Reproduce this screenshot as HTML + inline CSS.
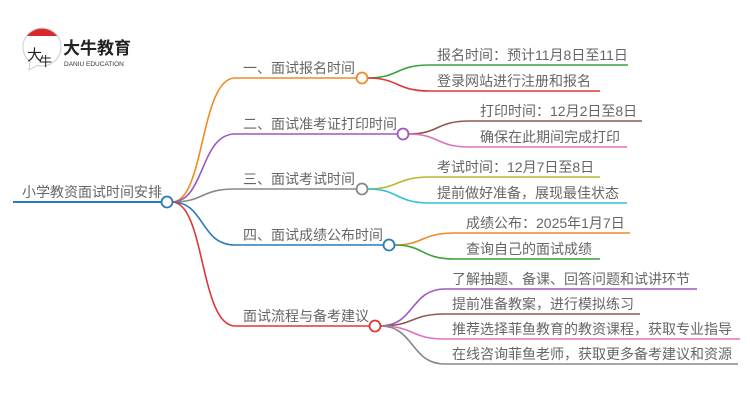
<!DOCTYPE html>
<html><head><meta charset="utf-8"><style>
html,body{margin:0;padding:0;background:#fff;width:750px;height:410px;overflow:hidden}
svg text{font-family:"Liberation Sans","Noto Sans CJK SC",sans-serif;fill:#666}
</style></head><body>
<svg width="750" height="410" viewBox="0 0 750 410" xmlns="http://www.w3.org/2000/svg">
<!-- logo -->
<g>
<circle cx="42" cy="47" r="19" fill="#fff" stroke="#ccc" stroke-width="1"/>
<path d="M27 36 A19 19 0 0 1 57 36 Z" fill="#d82a2a"/>
<path d="M30 62 L29 70 L38 65" fill="#fff" stroke="#ccc" stroke-width="1"/>
<text x="27" y="60" font-size="15" style="fill:#222">大</text>
<text x="39" y="66" font-size="13" style="fill:#222">牛</text>
<text x="63" y="54" font-size="17" font-weight="bold" style="fill:#222">大牛教育</text>
<text x="64" y="66" font-size="6.5" style="fill:#333">DANIU EDUCATION</text>
</g>
<g fill="none" stroke-width="1.6">
<line x1="13" y1="202" x2="162" y2="202" stroke="#2a7ab8" stroke-width="2"/>
<path d="M172 202 C205 202,200 78,235 78 L357 78" stroke="#f08a24"/>
<path d="M172 202 C205 202,200 134,235 134 L398 134" stroke="#9b59c0"/>
<path d="M172 202 C205 202,200 189,235 189 L357 189" stroke="#888"/>
<path d="M172 202 C205 202,200 245,235 245 L384 245" stroke="#2a7ab8"/>
<path d="M172 202 C205 202,200 326,235 326 L370 326" stroke="#e03535"/>
<path d="M367 78 C400 78,395 65,430 65 L628 65" stroke="#3aa43a"/>
<path d="M367 78 C400 78,395 91,430 91 L600 91" stroke="#e03535"/>
<path d="M408 134 C440 134,435 121,470 121 L642 121" stroke="#8b5a4a"/>
<path d="M408 134 C440 134,435 147,470 147 L627 147" stroke="#e070c0"/>
<path d="M367 189 C400 189,395 177,430 177 L600 177" stroke="#b8b830"/>
<path d="M367 189 C400 189,395 203,430 203 L627 203" stroke="#30c0d8"/>
<path d="M394 245 C425 245,420 233,455 233 L630 233" stroke="#f08a24"/>
<path d="M394 245 C425 245,420 259,455 259 L600 259" stroke="#3aa43a"/>
<path d="M380 326 C415 326,410 289,445 289 L697 289" stroke="#9b59c0"/>
<path d="M380 326 C415 326,410 314,445 314 L640 314" stroke="#8b5a4a"/>
<path d="M380 326 C415 326,410 339,445 339 L740 339" stroke="#e070c0"/>
<path d="M380 326 C415 326,410 364,445 364 L738 364" stroke="#888"/>
</g>
<g fill="#fff" stroke-width="1.8">
<circle cx="167" cy="202" r="5.5" stroke="#2a7ab8"/>
<circle cx="362" cy="78" r="5.5" stroke="#f08a24"/>
<circle cx="403" cy="134" r="5.5" stroke="#9b59c0"/>
<circle cx="362" cy="189" r="5.5" stroke="#888"/>
<circle cx="389" cy="245" r="5.5" stroke="#2a7ab8"/>
<circle cx="375" cy="326" r="5.5" stroke="#e03535"/>
</g>
<g font-size="14">
<text x="22" y="197">小学教资面试时间安排</text>
<text x="243" y="73">一、面试报名时间</text>
<text x="243" y="129">二、面试准考证打印时间</text>
<text x="243" y="184">三、面试考试时间</text>
<text x="243" y="240">四、面试成绩公布时间</text>
<text x="243" y="321">面试流程与备考建议</text>
<text x="437" y="60">报名时间：预计11月8日至11日</text>
<text x="437" y="86">登录网站进行注册和报名</text>
<text x="480" y="116">打印时间：12月2日至8日</text>
<text x="480" y="142">确保在此期间完成打印</text>
<text x="437" y="172">考试时间：12月7日至8日</text>
<text x="437" y="198">提前做好准备，展现最佳状态</text>
<text x="466" y="228">成绩公布：2025年1月7日</text>
<text x="466" y="254">查询自己的面试成绩</text>
<text x="452" y="284">了解抽题、备课、回答问题和试讲环节</text>
<text x="452" y="309">提前准备教案，进行模拟练习</text>
<text x="452" y="334">推荐选择菲鱼教育的教资课程，获取专业指导</text>
<text x="452" y="359">在线咨询菲鱼老师，获取更多备考建议和资源</text>
</g>
</svg>
</body></html>
